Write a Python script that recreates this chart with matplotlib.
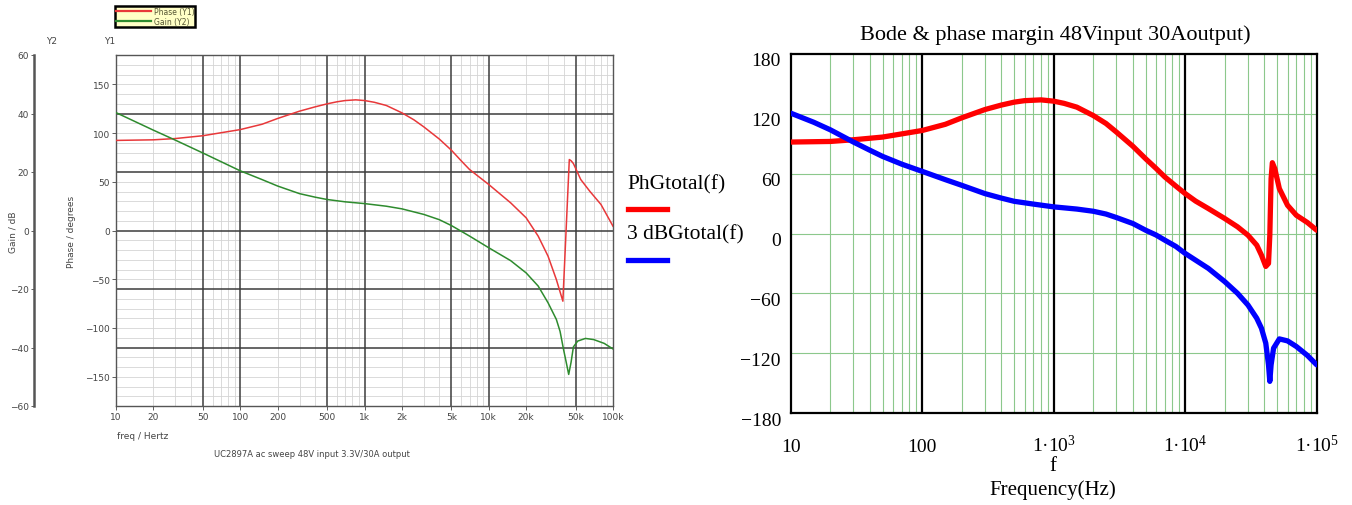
import matplotlib
matplotlib.use("Agg")
import matplotlib.pyplot as plt
from matplotlib.lines import Line2D
from matplotlib.transforms import ScaledTranslation

plt.rcParams['mathtext.fontset'] = 'custom'
plt.rcParams['mathtext.rm'] = 'Liberation Serif'
plt.rcParams['mathtext.it'] = 'Liberation Serif:italic'

# ---------------- Left chart data (simulator) ----------------
left_phase_f = [10, 20, 30, 50, 100, 150, 200, 300, 400, 500, 600, 700, 850, 1000, 1200,
                1500, 2000, 2500, 3000, 4000, 5000, 6000, 7000, 10000, 15000, 20000, 25000,
                30000, 35000, 39500, 44500, 46000, 48000, 55000, 65000, 80000, 100000]
left_phase = [92.4, 93.0, 94.3, 97.2, 103.5, 109.0, 114.9, 122.4, 126.8, 129.9, 132.0, 133.3,
              134.0, 133.3, 131.5, 128.2, 120.7, 113.5, 106.3, 93.8, 82.4, 71.5, 62.6, 47.2,
              28.4, 13.0, -5.8, -26.3, -50.3, -72.5, 72.8, 71.5, 68.7, 52.3, 40.3, 26.7, 4.4]

left_gain_f = [10, 20, 30, 50, 100, 150, 200, 300, 400, 500, 700, 1000, 1500, 2000, 3000,
               4000, 5000, 7000, 10000, 15000, 20000, 25000, 30000, 35000, 37500, 40000,
               42000, 44000, 46000, 48000, 52000, 60000, 70000, 85000, 100000]
left_gain = [40.3, 34.3, 30.9, 26.5, 20.4, 17.4, 15.2, 12.6, 11.4, 10.6, 9.8, 9.2, 8.3, 7.4,
             5.5, 3.7, 1.7, -1.9, -5.9, -10.3, -14.5, -19.0, -24.7, -30.4, -34.5, -40.7,
             -45.0, -49.2, -45.0, -39.8, -37.8, -36.9, -37.3, -38.6, -40.5]

left_xticks = [10, 20, 50, 100, 200, 500, 1000, 2000, 5000, 10000, 20000, 50000, 100000]
left_xlabels = ['10', '20', '50', '100', '200', '500', '1k', '2k', '5k', '10k', '20k', '50k', '100k']
left_y1ticks = [-150, -100, -50, 0, 50, 100, 150]
left_y2ticks = [-60, -40, -20, 0, 20, 40, 60]

# ---------------- Right chart data (Mathcad) ----------------
right_f = [10, 20, 30, 50, 100, 150, 200, 300, 400, 500, 600, 800, 1000, 1200, 1500, 2000,
           2500, 3000, 4000, 5000, 6000, 7000, 8500, 10000, 12000, 15000, 20000, 25000,
           30000, 35000, 38000, 41000, 43000, 44000, 45000, 46000, 48000, 52000, 60000,
           70000, 85000, 100000]
right_phase = [91.7, 92.3, 94.0, 96.7, 103.3, 109.5, 116.0, 124.3, 128.8, 131.7, 133.2, 134.0,
               132.7, 130.5, 126.7, 118.3, 110.3, 101.7, 87.5, 75.0, 65.3, 56.7, 47.5, 40.0,
               32.5, 25.0, 15.0, 6.7, -1.7, -11.7, -21.7, -33.0, -30.0, -1.7, 55.0, 71.0,
               65.0, 45.0, 28.3, 18.3, 11.0, 3.3]

right_gain_f = [10, 15, 20, 30, 40, 50, 70, 100, 150, 200, 300, 400, 500, 700, 1000, 1500,
                2000, 2500, 3000, 4000, 5000, 6000, 7000, 8500, 10000, 15000, 20000, 25000,
                30000, 35000, 38000, 41000, 43000, 44000, 45000, 47000, 52000, 60000, 70000,
                85000, 100000]
right_gain3 = [120.7, 111.5, 104.0, 91.7, 83.5, 77.3, 69.5, 62.3, 54.0, 48.3, 40.0, 35.5, 32.3,
               29.5, 26.7, 24.5, 22.3, 19.5, 16.0, 10.0, 3.3, -1.5, -6.7, -13.0, -20.0, -35.0,
               -48.3, -60.0, -71.7, -85.0, -95.0, -110.0, -131.7, -148.3, -131.7, -115.0,
               -105.7, -107.7, -113.3, -122.3, -131.7]

right_xticks = [10, 100, 1000, 10000, 100000]
right_xlabels = ['10', '100', '1·10$^{3}$', '1·10$^{4}$', '1·10$^{5}$']
right_yticks = [-180, -120, -60, 0, 60, 120, 180]

W, H = 1352, 506
fig = plt.figure(figsize=(W / 100, H / 100), dpi=100)


def fx(px):
    return px / W


def fy(py):
    return 1 - py / H


# ======================= LEFT =======================
axL = fig.add_axes([fx(116), fy(407), fx(613) - fx(116), fy(56) - fy(407)])
axL.set_xscale('log')
axL.set_xlim(10, 1e5)
axL.set_ylim(-180, 180)

minor_c, major_c = '#d4d4d4', '#3c3c3c'
for dec in [10, 100, 1000, 10000]:
    for m in [2, 3, 4, 6, 7, 8, 9]:
        axL.axvline(m * dec, color=minor_c, lw=0.6, zorder=0)
    for m in [1, 5]:
        axL.axvline(m * dec, color=major_c, lw=1.1, zorder=0.5)
for v in range(-170, 180, 10):
    if v % 60 != 0:
        axL.axhline(v, color=minor_c, lw=0.6, zorder=0)
for v in [-120, -60, 0, 60, 120]:
    axL.axhline(v, color=major_c, lw=1.1, zorder=0.5)

lp, = axL.plot(left_phase_f, left_phase, color='#e8383a', lw=1.1, zorder=3)
for s in axL.spines.values():
    s.set_color('#555555')
    s.set_linewidth(1.0)

axL.set_xticks(left_xticks)
axL.set_xticklabels(left_xlabels)
axL.xaxis.set_minor_locator(matplotlib.ticker.NullLocator())
axL.set_yticks(left_y1ticks)
axL.tick_params(axis='both', labelsize=6.5, colors='#444444', length=3, width=0.6, pad=1.5)

axG = axL.twinx()
axG.set_ylim(-60, 60)
lg, = axG.plot(left_gain_f, left_gain, color='#2e8b2e', lw=1.1, zorder=3)
axG.yaxis.tick_left()
axG.spines['left'].set_position(('outward', 59))
axG.spines['left'].set_color('#555555')
axG.spines['left'].set_linewidth(1.8)
for k in ['right', 'top', 'bottom']:
    axG.spines[k].set_visible(False)
axG.set_yticks(left_y2ticks)
axG.tick_params(axis='y', labelsize=6.5, colors='#444444', length=2, width=0.6, pad=1.5)
axG.set_xlim(10, 1e5)

txt = dict(fontsize=6.5, color='#444444', family='DejaVu Sans')
fig.text(fx(52), fy(42), 'Y2', ha='center', va='center', **txt)
fig.text(fx(110), fy(42), 'Y1', ha='center', va='center', **txt)
fig.text(fx(13), fy(232), 'Gain / dB', rotation=90, ha='center', va='center', **txt)
fig.text(fx(72), fy(232), 'Phase / degrees', rotation=90, ha='center', va='center', **txt)
fig.text(fx(117), fy(437), 'freq / Hertz', ha='left', va='center', **txt)
fig.text(fx(312), fy(455), 'UC2897A ac sweep 48V input 3.3V/30A output', ha='center',
         va='center', fontsize=6, color='#444444')

leg = fig.legend([lp, lg], ['Phase (Y1)', 'Gain (Y2)'], loc='upper left',
                 bbox_to_anchor=(fx(115), fy(7)), fontsize=5.5, frameon=True,
                 facecolor='#ffffc6', edgecolor='black', framealpha=1, fancybox=False,
                 handlelength=4.5, borderpad=0.15, labelspacing=0.05, handletextpad=0.4,
                 borderaxespad=0)
leg.get_frame().set_linewidth(1.8)
for t in leg.get_texts():
    t.set_color('#555533')
for l in leg.get_lines():
    l.set_linewidth(1.6)

# ======================= RIGHT =======================
serif = 'Liberation Serif'
axR = fig.add_axes([fx(790.7), fy(414), fx(1316.7) - fx(790.7), fy(55) - fy(414)])
axR.set_xscale('log')
axR.set_xlim(10, 1e5)
axR.set_ylim(-180, 180)

gcol = '#8cc88c'
for dec in [10, 100, 1000, 10000]:
    for m in [2, 3, 4, 5, 6, 7, 8, 9]:
        axR.axvline(m * dec, color=gcol, lw=0.8, zorder=0)
for v in [-120, -60, 0, 60, 120]:
    axR.axhline(v, color=gcol, lw=0.8, zorder=0)
for v in [100, 1000, 10000]:
    axR.axvline(v, color='black', lw=1.6, zorder=0.5)

axR.plot(right_f, right_phase, color='#ff0000', lw=3.8, zorder=3, solid_capstyle='round',
         solid_joinstyle='round')
axR.plot(right_gain_f, right_gain3, color='#0000ff', lw=3.8, zorder=3, solid_capstyle='round',
         solid_joinstyle='round')
for s in axR.spines.values():
    s.set_color('black')
    s.set_linewidth(1.6)

axR.set_xticks(right_xticks)
axR.set_xticklabels(right_xlabels)
axR.xaxis.set_minor_locator(matplotlib.ticker.NullLocator())
axR.set_yticks(right_yticks)
axR.tick_params(axis='both', length=0, labelsize=14, colors='black')
axR.tick_params(axis='y', pad=7)
axR.tick_params(axis='x', pad=27.5)
down = ScaledTranslation(0, -5 / 100, fig.dpi_scale_trans)
for lab in axR.get_yticklabels():
    lab.set_family(serif)
    lab.set_transform(lab.get_transform() + down)
for lab in axR.get_xticklabels():
    lab.set_family(serif)
    lab.set_verticalalignment('baseline')

fig.text(fx(1055), fy(35), 'Bode & phase margin 48Vinput 30Aoutput)', ha='center',
         va='center', fontsize=16, family=serif)
fig.text(fx(1053), fy(467), 'f', ha='center', va='center', fontsize=15, family=serif)
fig.text(fx(1053), fy(490), 'Frequency(Hz)', ha='center', va='center', fontsize=15,
         family=serif)

# right legend
fig.text(fx(627), fy(185), 'PhGtotal(f)', ha='left', va='center', fontsize=15.5, family=serif)
fig.add_artist(Line2D([fx(628), fx(667)], [fy(210), fy(210)], transform=fig.transFigure,
                      color='#ff0000', lw=3.8))
fig.text(fx(627), fy(235), '3 dBGtotal(f)', ha='left', va='center', fontsize=15.5, family=serif)
fig.add_artist(Line2D([fx(628), fx(667)], [fy(261), fy(261)], transform=fig.transFigure,
                      color='#0000ff', lw=3.8))

fig.savefig('out.png', dpi=100)
